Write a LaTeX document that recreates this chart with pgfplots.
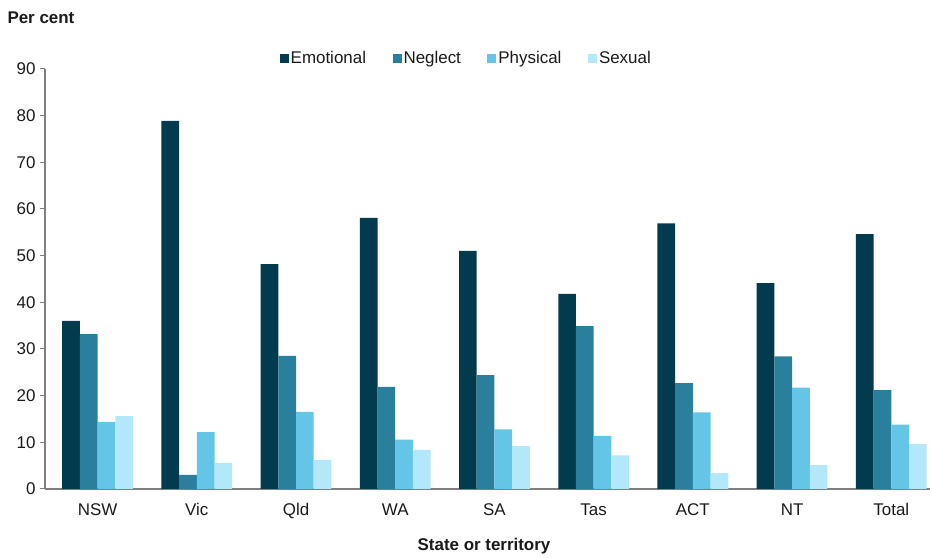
\documentclass[border=0pt]{standalone}
\usepackage{fontspec}
\setmainfont{Liberation Sans}
\usepackage{pgfplots}
\pgfplotsset{compat=1.18}
\definecolor{cEmo}{HTML}{023B4D}
\definecolor{cNeg}{HTML}{2A7F9C}
\definecolor{cPhy}{HTML}{64C5E6}
\definecolor{cSex}{HTML}{B2E8F9}
\definecolor{axgray}{HTML}{7F7F7F}
\definecolor{txt}{HTML}{1A1A1A}
\begin{document}
\begin{tikzpicture}
\path (0,0) rectangle (932bp,555bp);
\begin{axis}[
  at={(45bp,66bp)}, anchor=south west, scale only axis,
  width=885bp, height=420bp,
  xmin=-0.53, xmax=8.39, ymin=0, ymax=90,
  ytick={0,10,...,90},
  xtick={0,...,8}, xticklabels={NSW,Vic,Qld,WA,SA,Tas,ACT,NT,Total},
  axis x line*=bottom, axis y line*=left,
  axis line style={-, axgray, line width=1.2bp},
  major x tick style={draw=none},
  major y tick style={axgray, line width=1bp},
  major tick length=5bp, tick align=outside,
  ybar=0pt, bar width=17.7bp,
  /pgf/number format/assume math mode=true,
  ticklabel style={font=\fontsize{17}{19}\selectfont, text=txt},
  yticklabel style={xshift=-1bp},
  xticklabel style={yshift=-6bp},
  legend style={draw=none, legend columns=4, at={(0.476,1.026)}, anchor=center,
    font=\fontsize{17}{19}\selectfont, text=txt,
    /tikz/every even column/.append style={column sep=24.5bp},
    nodes={inner sep=2bp}},
  legend image code/.code={\draw[#1, draw=none] (0bp,-4.5bp) rectangle (9bp,4.5bp);},
]
\addplot[fill=cEmo, draw=none] coordinates {(0,36.0) (1,78.9) (2,48.2) (3,58.1) (4,51.0) (5,41.8) (6,56.9) (7,44.1) (8,54.6)};
\addplot[fill=cNeg, draw=none] coordinates {(0,33.2) (1,3.0) (2,28.5) (3,21.9) (4,24.4) (5,34.9) (6,22.7) (7,28.4) (8,21.2)};
\addplot[fill=cPhy, draw=none] coordinates {(0,14.4) (1,12.2) (2,16.5) (3,10.6) (4,12.8) (5,11.4) (6,16.4) (7,21.7) (8,13.8)};
\addplot[fill=cSex, draw=none] coordinates {(0,15.6) (1,5.6) (2,6.2) (3,8.4) (4,9.2) (5,7.2) (6,3.4) (7,5.1) (8,9.6)};
\legend{Emotional,Neglect,Physical,Sexual}
\end{axis}
\node[anchor=west, font=\bfseries\fontsize{17}{19}\selectfont, text=txt] at (4bp,537bp) {Per cent};
\node[font=\bfseries\fontsize{17}{19}\selectfont, text=txt] at (484bp,9bp) {State or territory};
\end{tikzpicture}
\end{document}
